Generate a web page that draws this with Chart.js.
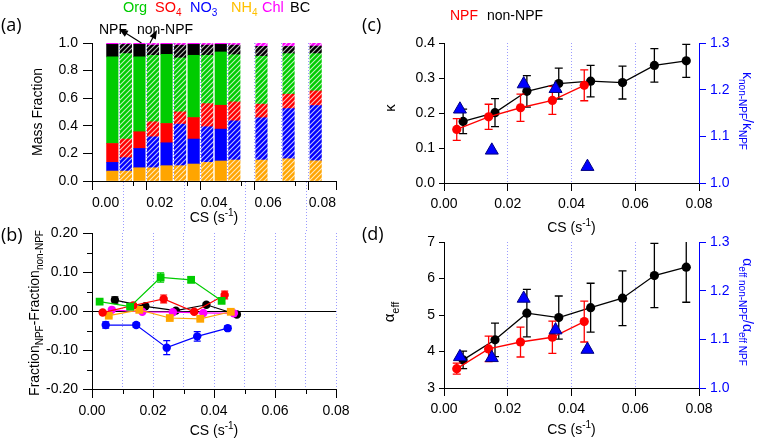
<!DOCTYPE html>
<html><head><meta charset="utf-8">
<script src="https://cdn.jsdelivr.net/npm/chart.js@4.4.0/dist/chart.umd.min.js"></script>
<style>
html,body{margin:0;padding:0;background:#fff;}
#wrap{position:relative;width:759px;height:441px;overflow:hidden;background:#fff;}
canvas{position:absolute;left:0;top:0;}
</style></head><body>
<div id="wrap">
<canvas id="cB" width="759" height="441"></canvas>
<canvas id="cA" width="759" height="441"></canvas>
<canvas id="cC" width="759" height="441"></canvas>
<canvas id="cD" width="759" height="441"></canvas>
</div>
<script>
// ---------------- DATA ----------------
// Panel (a): mass fractions per CS bin (NPF / non-NPF bars)
const barCS = [0.0025,0.0075,0.0125,0.0175,0.0225,0.0275,0.0325,0.0375,0.0425,0.0475,0.0575,0.0675,0.0775];
const barGroup = ['NPF','non-NPF','NPF','non-NPF','NPF','non-NPF','NPF','non-NPF','NPF','non-NPF','non-NPF','non-NPF','non-NPF'];
const fracNH4 = [0.072,0.072,0.096,0.096,0.111,0.111,0.123,0.135,0.145,0.152,0.152,0.161,0.147];
const fracNO3 = [0.063,0.097,0.140,0.224,0.166,0.301,0.181,0.258,0.231,0.284,0.306,0.364,0.400];
const fracSO4 = [0.137,0.135,0.121,0.109,0.140,0.089,0.156,0.168,0.173,0.137,0.099,0.104,0.106];
const fracOrg = [0.627,0.619,0.542,0.482,0.501,0.391,0.451,0.350,0.386,0.342,0.347,0.294,0.270];
const fracBC  = [0.091,0.067,0.091,0.074,0.072,0.093,0.079,0.074,0.055,0.070,0.072,0.053,0.055];
const fracChl = [0.010,0.010,0.010,0.015,0.010,0.015,0.010,0.015,0.010,0.015,0.024,0.024,0.022];

// Panel (b): Fraction_NPF - Fraction_non-NPF
const csOrg = [0.0025,0.0125,0.0225,0.0325,0.0425];
const dOrg  = [0.024,0.011,0.086,0.080,0.026];
const eOrg  = [0.006,0.005,0.012,0.007,0.005];
const csSO4 = [0.0035,0.0135,0.0235,0.0335,0.0435];
const dSO4  = [-0.004,0.014,0.031,-0.002,0.041];
const eSO4  = [0.004,0.005,0.010,0.004,0.010];
const csNO3 = [0.0045,0.0145,0.0245,0.0345,0.0445];
const dNO3  = [-0.036,-0.036,-0.094,-0.065,-0.044];
const eNO3  = [0.008,0.006,0.018,0.012,0.006];
const csNH4 = [0.0055,0.0155,0.0255,0.0355,0.0455];
const dNH4  = [-0.012,0.003,-0.018,-0.020,-0.002];
const eNH4  = [0.004,0.003,0.004,0.004,0.003];
const csChl = [0.0065,0.0165,0.0265,0.0365,0.0465];
const dChl  = [0.003,-0.002,-0.003,-0.005,-0.006];
const eChl  = [0.002,0.002,0.002,0.002,0.002];
const csBC  = [0.0075,0.0175,0.0275,0.0375,0.0475];
const dBC   = [0.028,0.012,0.001,0.016,-0.009];
const eBC   = [0.008,0.004,0.003,0.005,0.004];

// Panels (c),(d)
const csNPF = [0.004,0.014,0.024,0.034,0.044];
const csNon = [0.006,0.016,0.026,0.036,0.046,0.056,0.066,0.076];
const csRatio = [0.005,0.015,0.025,0.035,0.045];
const kappaNPF = [0.153,0.189,0.215,0.236,0.279];
const kappaNPFerr = [0.031,0.036,0.039,0.040,0.044];
const kappaNon = [0.176,0.201,0.262,0.284,0.291,0.287,0.336,0.349];
const kappaNonErr = [0.035,0.040,0.045,0.044,0.045,0.047,0.048,0.047];
const kappaRatio = [1.158,1.070,1.212,1.202,1.035];
const alphaNPF = [3.53,4.07,4.26,4.39,4.82];
const alphaNPFerr = [0.15,0.35,0.41,0.44,0.56];
const alphaNon = [3.77,4.32,5.05,4.93,5.20,5.46,6.08,6.31];
const alphaNonErr = [0.24,0.46,0.65,0.59,0.67,0.75,0.88,0.96];
const alphaRatio = [1.064,1.062,1.184,1.119,1.079];

// ---------------- STYLE / HELPERS ----------------
const FONT = "'Liberation Sans', Arial, sans-serif";
Chart.defaults.font.family = FONT;
Chart.defaults.font.size = 14;
Chart.defaults.color = '#000';
Chart.defaults.animation = false;
Chart.defaults.plugins.legend.display = false;
Chart.defaults.plugins.tooltip.enabled = false;

const C = {org:'#00CC00', so4:'#FF0000', no3:'#0000FF', nh4:'#FFA500', chl:'#FF00FF', bc:'#000000', blue:'#0000FF'};
const DOT = '#9b9bff';
const CLEAR = 'rgba(0,0,0,0)';

function hatch(color){
  const c = document.createElement('canvas'); c.width = 5; c.height = 5;
  const g = c.getContext('2d');
  g.fillStyle = color; g.fillRect(0,0,5,5);
  g.strokeStyle = 'rgba(255,255,255,0.75)'; g.lineWidth = 1.1;
  g.beginPath();
  g.moveTo(-1,6); g.lineTo(6,-1);
  g.moveTo(-1,1); g.lineTo(1,-1);
  g.moveTo(4,6); g.lineTo(6,4);
  g.stroke();
  return g.createPattern(c,'repeat');
}

function rich(ctx, parts, x, y, o){
  o = o || {};
  const size = o.size || 14, fam = o.family || FONT, sub = o.sub || Math.round(size*0.72);
  ctx.save();
  ctx.translate(x,y);
  if (o.rot) ctx.rotate(o.rot);
  ctx.fillStyle = o.color || '#000';
  ctx.textBaseline = 'alphabetic';
  ctx.textAlign = 'left';
  let w = 0;
  const segs = parts.map(p => {
    const t = typeof p === 'string' ? p : p[0];
    const m = typeof p === 'string' ? 'n' : p[1];
    const fs = m === 'n' ? size : sub;
    ctx.font = fs + 'px ' + fam;
    const sw = ctx.measureText(t).width; w += sw;
    return {t, m, fs, sw};
  });
  let cx = o.align === 'center' ? -w/2 : 0;
  const dy = o.middle ? size*0.36 : 0;
  for (const s of segs){
    ctx.font = s.fs + 'px ' + fam;
    let yy = dy;
    if (s.m === 'sub') yy += size*0.3;
    if (s.m === 'sup') yy -= size*0.42;
    ctx.fillText(s.t, cx, yy);
    cx += s.sw;
  }
  ctx.restore();
}

function arrow(ctx, x1, y1, x2, y2){
  const a = Math.atan2(y2-y1, x2-x1), h = 9, wd = 3.5;
  ctx.save();
  ctx.strokeStyle = '#000'; ctx.fillStyle = '#000'; ctx.lineWidth = 1.2;
  ctx.beginPath(); ctx.moveTo(x1,y1); ctx.lineTo(x2 - Math.cos(a)*h*0.8, y2 - Math.sin(a)*h*0.8); ctx.stroke();
  ctx.beginPath();
  ctx.moveTo(x2,y2);
  ctx.lineTo(x2 - Math.cos(a)*h - Math.sin(a)*wd, y2 - Math.sin(a)*h + Math.cos(a)*wd);
  ctx.lineTo(x2 - Math.cos(a)*h + Math.sin(a)*wd, y2 - Math.sin(a)*h - Math.cos(a)*wd);
  ctx.closePath(); ctx.fill();
  ctx.restore();
}

const errorBars = {
  id: 'errorBars',
  beforeDatasetDraw(chart, args){
    const ds = chart.data.datasets[args.index];
    if (!ds.errors) return;
    const meta = args.meta, ys = chart.scales[meta.yAxisID], ctx = chart.ctx, a = chart.chartArea;
    ctx.save();
    ctx.beginPath(); ctx.rect(a.left, a.top, a.right-a.left, a.bottom-a.top); ctx.clip();
    ctx.strokeStyle = ds.borderColor; ctx.lineWidth = ds.errWidth || 1.2;
    const cap = ds.cap || 4;
    meta.data.forEach((pt, i) => {
      const v = ds.data[i].y, e = ds.errors[i];
      const y1 = ys.getPixelForValue(v+e), y2 = ys.getPixelForValue(v-e);
      ctx.beginPath();
      ctx.moveTo(pt.x, y1); ctx.lineTo(pt.x, y2);
      ctx.moveTo(pt.x-cap, y1); ctx.lineTo(pt.x+cap, y1);
      ctx.moveTo(pt.x-cap, y2); ctx.lineTo(pt.x+cap, y2);
      ctx.stroke();
    });
    ctx.restore();
  }
};

function pts(xs, ys){ return xs.map((x,i) => ({x, y: ys[i]})); }

function csAxis(opt){
  return {
    type:'linear', position:'bottom', min:0, max:0.08,
    ticks:{ stepSize: opt.step, autoSkip:false, maxRotation:0, minRotation:0, padding: opt.pad, color:'#000', font:{size:14},
      callback: v => { const k = Math.round(v*100); return k % 2 === 0 ? (k/100).toFixed(2) : ''; } },
    grid:{ drawOnChartArea:true, drawTicks:true, tickLength: opt.tickLen, lineWidth:1,
      color: c => { if (!c.tick) return CLEAR; const k = Math.round(c.tick.value*100); return opt.gridAt(k) ? DOT : CLEAR; },
      tickColor: c => { if (!c.tick) return '#000'; const k = Math.round(c.tick.value*100); return k % 2 === 0 ? '#000' : CLEAR; } },
    border:{ display:true, color:'#000', width:1, dash:[1,2] },
    afterFit: s => { s.height = 40; }
  };
}

function valAxis(opt){
  return {
    type:'linear', position: opt.pos || 'left', min: opt.min, max: opt.max,
    ticks:{ stepSize: opt.step, autoSkip:false, padding: opt.pad, color: opt.color || '#000', font:{size:14},
      callback: v => (Math.abs(v) < 1e-9 ? 0 : v).toFixed(opt.dec) },
    grid:{ drawOnChartArea: !!opt.zero, drawTicks:true, tickLength: opt.tickLen, lineWidth:1,
      color: c => (opt.zero && c.tick && Math.abs(c.tick.value) < 1e-9) ? '#000' : CLEAR,
      tickColor: opt.color || '#000' },
    border:{ display:true, color: opt.color || '#000', width:1 },
    afterFit: s => { s.width = opt.width; }
  };
}

function minorTicks(ctx, scale, vals, len, horizontal, a){
  ctx.save(); ctx.strokeStyle = '#000'; ctx.lineWidth = 1;
  ctx.beginPath();
  vals.forEach(v => {
    const p = Math.round(scale.getPixelForValue(v)) + 0.5;
    if (horizontal){ ctx.moveTo(p, a.bottom); ctx.lineTo(p, a.bottom + len); }
    else { ctx.moveTo(a.left, p); ctx.lineTo(a.left - len, p); }
  });
  ctx.stroke(); ctx.restore();
}

const OMIN = [0.01,0.03,0.05,0.07];

// ---------------- PANEL (a) ----------------
function barDS(label, vals, color){
  const pat = hatch(color);
  return { label, data: pts(barCS, vals), borderWidth:0, barThickness:11.5,
    backgroundColor: c => barGroup[c.dataIndex] === 'NPF' ? color : pat };
}
new Chart(document.getElementById('cA'), {
  type:'bar',
  data:{ datasets:[
    barDS('NH4', fracNH4, C.nh4),
    barDS('NO3', fracNO3, C.no3),
    barDS('SO4', fracSO4, C.so4),
    barDS('Org', fracOrg, C.org),
    barDS('BC', fracBC, C.bc),
    barDS('Chl', fracChl, C.chl)
  ]},
  options:{
    responsive:false, devicePixelRatio:1,
    layout:{ autoPadding:false, padding:{ left:0, top:43, right:423, bottom:220 } },
    scales:{
      x: Object.assign(csAxis({step:0.01, pad:5, tickLen:9, gridAt: k => k >= 1}), {stacked:true}),
      y: Object.assign(valAxis({min:0, max:1, step:0.2, dec:1, pad:5, tickLen:9, width:92}), {stacked:true})
    }
  },
  plugins:[{ id:'decoA', afterDraw(chart){
    const ctx = chart.ctx, a = chart.chartArea, xs = chart.scales.x, ys = chart.scales.y;
    minorTicks(ctx, xs, OMIN, 5, true, a);
    rich(ctx, ['(a)'], 1, 31, {size:18, family:"'Open Sans', sans-serif"});
    rich(ctx, ['Org'], 123, 12, {size:14.5, color:C.org});
    rich(ctx, ['SO',['4','sub']], 155, 12, {size:14.5, color:C.so4});
    rich(ctx, ['NO',['3','sub']], 190, 12, {size:14.5, color:C.no3});
    rich(ctx, ['NH',['4','sub']], 231, 12, {size:14.5, color:'#FFC000'});
    rich(ctx, ['Chl'], 262, 12, {size:14.5, color:C.chl});
    rich(ctx, ['BC'], 290, 12, {size:14.5, color:C.bc});
    rich(ctx, ['NPF'], 99, 34, {size:14});
    rich(ctx, ['non-NPF'], 137, 34, {size:14});
    const yTop = ys.getPixelForValue(1);
    arrow(ctx, xs.getPixelForValue(barCS[2]) + 2, yTop, 119, 29);
    arrow(ctx, xs.getPixelForValue(barCS[3]) - 3, yTop, 157, 30);
    rich(ctx, ['Mass Fraction'], 37, (a.top+a.bottom)/2, {size:14, rot:-Math.PI/2, align:'center', middle:true});
    rich(ctx, ['CS (s',['-1','sup'],')'], (a.left+a.right)/2, 222, {size:14, align:'center'});
  }}]
});

// ---------------- PANEL (b) ----------------
function diffDS(label, xs, ys, es, color, shape){
  return { label, data: pts(xs, ys), errors: es, cap:3.5, errWidth:1.2,
    borderColor: color, backgroundColor: color, borderWidth:1.2, showLine:true,
    pointStyle: shape, pointRadius: shape === 'rect' ? 5.5 : 4.2, pointBorderWidth:0 };
}
new Chart(document.getElementById('cB'), {
  type:'scatter',
  data:{ datasets:[
    diffDS('Org', csOrg, dOrg, eOrg, C.org, 'rect'),
    diffDS('SO4', csSO4, dSO4, eSO4, C.so4, 'circle'),
    diffDS('NO3', csNO3, dNO3, eNO3, C.no3, 'circle'),
    diffDS('NH4', csNH4, dNH4, eNH4, C.nh4, 'rect'),
    diffDS('Chl', csChl, dChl, eChl, C.chl, 'circle'),
    diffDS('BC', csBC, dBC, eBC, C.bc, 'circle')
  ]},
  options:{
    responsive:false, devicePixelRatio:1,
    layout:{ autoPadding:false, padding:{ left:0, top:233, right:423, bottom:12 } },
    scales:{
      x: csAxis({step:0.01, pad:5, tickLen:9, gridAt: k => k >= 1}),
      y: valAxis({min:-0.2, max:0.2, step:0.1, dec:2, pad:5, tickLen:9, width:92, zero:true})
    }
  },
  plugins:[errorBars, { id:'decoB', afterDraw(chart){
    const ctx = chart.ctx, a = chart.chartArea, xs = chart.scales.x, ys = chart.scales.y;
    minorTicks(ctx, xs, OMIN, 5, true, a);
    minorTicks(ctx, ys, [-0.15,-0.05,0.05,0.15], 5, false, a);
    // dotted grid continuation between panels (a) and (b)
    ctx.save(); ctx.strokeStyle = DOT; ctx.lineWidth = 1; ctx.setLineDash([1,2]);
    ctx.beginPath();
    OMIN.forEach(v => { const p = Math.round(xs.getPixelForValue(v)) + 0.5; ctx.moveTo(p, 182); ctx.lineTo(p, a.top); });
    ctx.stroke(); ctx.restore();
    rich(ctx, ['(b)'], 1, 241, {size:18, family:"'Open Sans', sans-serif"});
    rich(ctx, ['Fraction',['NPF','sub'],'-Fraction',['non-NPF','sub']], 34, (a.top+a.bottom)/2 + 2, {size:14, rot:-Math.PI/2, align:'center', middle:true});
    rich(ctx, ['CS (s',['-1','sup'],')'], (a.left+a.right)/2, 435, {size:14, align:'center'});
  }}]
});

// ---------------- PANELS (c),(d) ----------------
function pairDS(label, xs, ys, es, color, order){
  return { label, data: pts(xs, ys), errors: es, cap:4, errWidth:1.3, yAxisID:'y', order,
    borderColor: color, backgroundColor: color, borderWidth:1.3, showLine:true,
    pointStyle:'circle', pointRadius:4.6, pointBorderWidth:0 };
}
function ratioDS(label, xs, ys){
  return { label, data: pts(xs, ys), yAxisID:'y2', order:0, showLine:false,
    pointStyle:'triangle', pointRadius:7.5, backgroundColor:C.blue, borderColor:'#000080', pointBorderWidth:1 };
}
function rightPanel(id, top, bottom, npf, npfE, non, nonE, ratio, yopt, deco){
  new Chart(document.getElementById(id), {
    type:'scatter',
    data:{ datasets:[
      pairDS('non-NPF', csNon, non, nonE, '#000', 2),
      pairDS('NPF', csNPF, npf, npfE, '#FF0000', 1),
      ratioDS('ratio', csRatio, ratio)
    ]},
    options:{
      responsive:false, devicePixelRatio:1,
      layout:{ autoPadding:false, padding:{ left:380, top:top, right:0, bottom:441-bottom-40 } },
      scales:{
        x: csAxis({step:0.02, pad:5, tickLen:8, gridAt: k => k === 2 || k === 4 || k === 6}),
        y: valAxis(Object.assign({pad:4, tickLen:5, width:64}, yopt)),
        y2: valAxis({pos:'right', min:1.0, max:1.3, step:0.1, dec:1, pad:4, tickLen:7, width:60, color:C.blue})
      }
    },
    plugins:[errorBars, { id:'deco'+id, afterDraw(chart){ deco(chart.ctx, chart.chartArea); } }]
  });
}
rightPanel('cC', 43, 183, kappaNPF, kappaNPFerr, kappaNon, kappaNonErr, kappaRatio,
  {min:0, max:0.4, step:0.1, dec:1},
  (ctx, a) => {
    rich(ctx, ['(c)'], 362, 31, {size:18, family:"'Open Sans', sans-serif"});
    rich(ctx, ['NPF'], 450, 20, {size:14, color:'#FF0000'});
    rich(ctx, ['non-NPF'], 487, 20, {size:14});
    rich(ctx, ['κ'], 390, (a.top+a.bottom)/2 - 5, {size:15, rot:-Math.PI/2, align:'center', middle:true});
    rich(ctx, ['κ',['non-NPF','sub'],'/κ',['NPF','sub']], 748, (a.top+a.bottom)/2 - 2, {size:14, rot:Math.PI/2, align:'center', middle:true, color:C.blue});
    rich(ctx, ['CS (s',['-1','sup'],')'], (a.left+a.right)/2, 232, {size:14, align:'center'});
  });
rightPanel('cD', 242, 388, alphaNPF, alphaNPFerr, alphaNon, alphaNonErr, alphaRatio,
  {min:3, max:7, step:1, dec:0},
  (ctx, a) => {
    rich(ctx, ['(d)'], 362, 240, {size:18, family:"'Open Sans', sans-serif"});
    rich(ctx, ['α',['eff','sub']], 389, (a.top+a.bottom)/2 - 3, {size:15, rot:-Math.PI/2, align:'center', middle:true});
    rich(ctx, ['α',['eff non-NPF','sub'],'/α',['eff NPF','sub']], 748, (a.top+a.bottom)/2 - 3, {size:14, rot:Math.PI/2, align:'center', middle:true, color:C.blue});
    rich(ctx, ['CS (s',['-1','sup'],')'], (a.left+a.right)/2, 434, {size:14, align:'center'});
  });
</script>
</body></html>
